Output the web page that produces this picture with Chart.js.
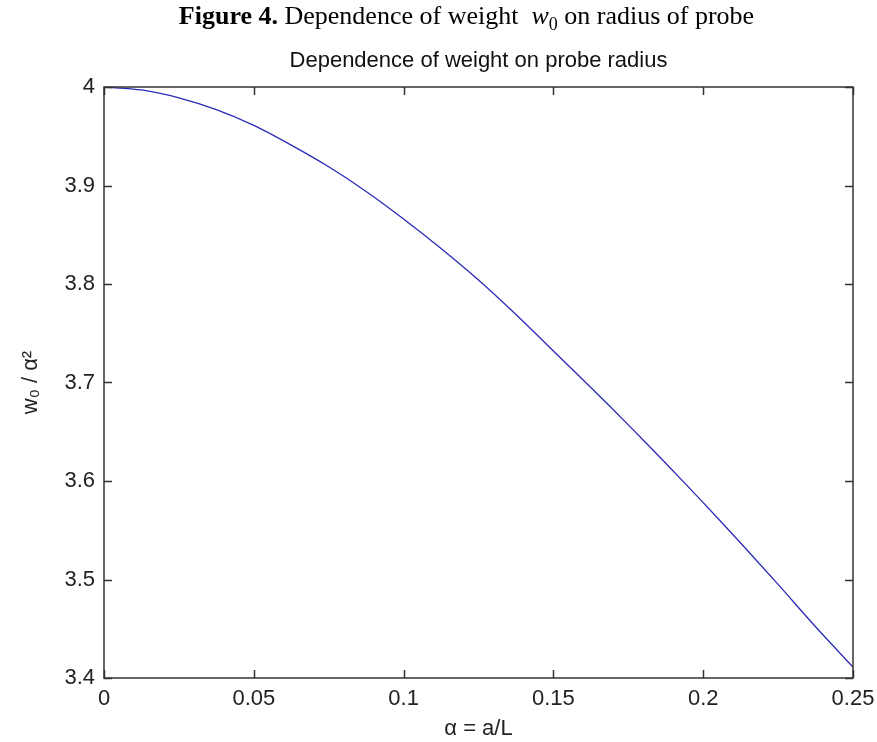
<!DOCTYPE html>
<html>
<head>
<meta charset="utf-8">
<script src="https://cdn.jsdelivr.net/npm/chart.js@4.4.1/dist/chart.umd.min.js"></script>
<style>
  html, body { margin: 0; padding: 0; background: #fff; }
  #wrap { position: relative; width: 877px; height: 742px; }
  #caption {
    position: absolute; left: 0; top: 1px; width: 821px; padding-left: 56px;
    text-align: center; font-family: "Liberation Serif", "Times New Roman", serif;
    font-size: 26px; line-height: 30px; color: #000;
  }
  #caption sub { font-size: 18px; line-height: 0; }
  canvas { position: absolute; left: 0; top: 0; }
</style>
</head>
<body>
<div id="wrap">
  <canvas id="weightChart" width="877" height="742"></canvas>
  <div id="caption"><b>Figure 4.</b> Dependence of weight&nbsp; <i>w</i><sub>0</sub> on radius of probe</div>
</div>
<script>
// alpha = a/L and w0/alpha^2
var alphaValues = [0, 0.0125, 0.025, 0.0375, 0.05, 0.0625, 0.075, 0.0875, 0.1, 0.1125, 0.125,
                   0.1375, 0.15, 0.1625, 0.175, 0.1875, 0.2, 0.2125, 0.225, 0.2375, 0.25];
var weightValues = [4.000, 3.997, 3.989, 3.977, 3.961, 3.941, 3.919, 3.894, 3.866, 3.836, 3.804,
                    3.769, 3.732, 3.695, 3.657, 3.618, 3.578, 3.537, 3.495, 3.452, 3.411];
var xTickLabels = ['0', '0.05', '0.1', '0.15', '0.2', '0.25'];
var yTickLabels = ['3.4', '3.5', '3.6', '3.7', '3.8', '3.9', '4'];

var points = alphaValues.map(function (a, i) { return { x: a, y: weightValues[i] }; });

var axisColor = '#333333';
var tickFont = { family: 'Liberation Sans, Arial, sans-serif', size: 22 };

// matlab-like box with inward ticks on all four sides
var boxPlugin = {
    id: 'matlabBox',
    afterDraw: function (chart) {
        var ctx = chart.ctx;
        var area = chart.chartArea;
        var xs = chart.scales.x, ys = chart.scales.y;
        ctx.save();
        ctx.strokeStyle = axisColor;
        ctx.lineWidth = 1.5;
        ctx.strokeRect(area.left, area.top, area.right - area.left, area.bottom - area.top);
        ctx.beginPath();
        xs.ticks.forEach(function (t) {
            var px = Math.round(xs.getPixelForValue(t.value)) + 0.5;
            ctx.moveTo(px, area.bottom); ctx.lineTo(px, area.bottom - 8);
            ctx.moveTo(px, area.top); ctx.lineTo(px, area.top + 8);
        });
        ys.ticks.forEach(function (t) {
            var py = Math.round(ys.getPixelForValue(t.value)) + 0.5;
            ctx.moveTo(area.left, py); ctx.lineTo(area.left + 8, py);
            ctx.moveTo(area.right, py); ctx.lineTo(area.right - 8, py);
        });
        ctx.stroke();
        ctx.restore();
    }
};

var ctx = document.getElementById('weightChart').getContext('2d');
var myChart = new Chart(ctx, {
    type: 'line',
    data: {
        datasets: [{
            data: points,
            borderColor: '#2a2ab8',
            borderWidth: 1.3,
            pointRadius: 0,
            fill: false,
            tension: 0.3
        }]
    },
    options: {
        responsive: false,
        animation: false,
        layout: { padding: { left: 0, right: 24, top: 0, bottom: 0 } },
        plugins: {
            legend: { display: false },
            tooltip: { enabled: false },
            title: {
                display: true,
                text: 'Dependence of weight on probe radius',
                fullSize: false,
                color: '#111',
                font: { family: 'Liberation Sans, Arial, sans-serif', size: 22, weight: 'normal' },
                padding: { top: 48, bottom: 12.6 }
            }
        },
        scales: {
            x: {
                type: 'linear',
                min: 0,
                max: 0.25,
                ticks: {
                    stepSize: 0.05,
                    color: '#222',
                    font: tickFont,
                    padding: 8,
                    maxRotation: 0,
                    callback: function (v, i) { return xTickLabels[i]; }
                },
                grid: { display: false, drawTicks: false },
                border: { display: false },
                title: {
                    display: true,
                    text: 'α = a/L',
                    color: '#222',
                    font: tickFont,
                    padding: { top: 0, bottom: 0 }
                },
                afterFit: function (scale) {
                    scale.height = 64;
                    scale.paddingLeft = 0;
                    scale.paddingRight = 0;
                }
            },
            y: {
                min: 3.4,
                max: 4,
                ticks: {
                    stepSize: 0.1,
                    color: '#222',
                    font: tickFont,
                    padding: 9,
                    callback: function (v, i) { return yTickLabels[i]; }
                },
                grid: { display: false, drawTicks: false },
                border: { display: false },
                title: {
                    display: true,
                    text: 'w₀ / α²',
                    color: '#222',
                    font: tickFont,
                    padding: { top: 18, bottom: 0 }
                },
                afterFit: function (scale) {
                    scale.width = 104;
                    scale.paddingTop = 0;
                    scale.paddingBottom = 0;
                }
            }
        }
    },
    plugins: [boxPlugin]
});
</script>
</body>
</html>
